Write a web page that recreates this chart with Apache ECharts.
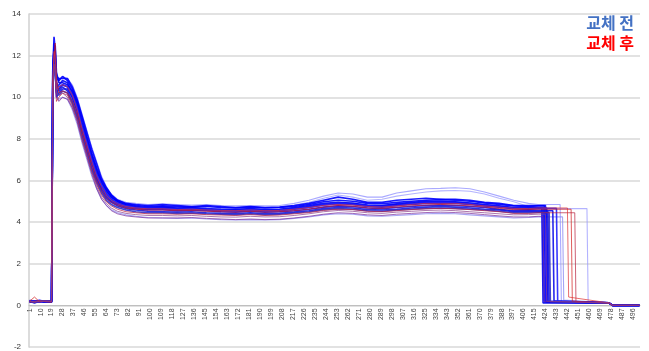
<!DOCTYPE html>
<html>
<head>
<meta charset="utf-8">
<script src="https://cdn.jsdelivr.net/npm/echarts@6/dist/echarts.min.js"></script>
<style>
  html, body { margin: 0; padding: 0; background: #fff; }
  #chart { width: 649px; height: 351px; }
</style>
</head>
<body>
<div id="chart"></div>
<script>
// 샘플 위치 (x축 카테고리 번호)
const sampleX = [1, 5, 9, 13, 19, 20, 21, 22, 23, 25, 28, 32, 36, 40, 44, 48, 52, 56, 60, 64,
    68, 73, 80, 88, 98, 110, 122, 134, 146, 158, 170, 182, 194, 206, 218, 230, 242, 254, 266, 278,
    290, 302, 314, 326, 338, 350, 362, 374, 386, 398, 410, 418]
const tailX = [476, 479, 501]
const tailY = [0.12, 0, 0]
const yTicks = [-2, 0, 2, 4, 6, 8, 10, 12, 14]

// 교체 전
const b1 = [0.22,0.18,0.25,0.2,0.22, 11.2,12.9,12.3,10.9,10.8, 11.0,10.8,10.4,9.8,9.0, 8.1,7.3,6.6,6.0,5.6,
    5.3,5.05,4.9,4.85,4.8, 4.85,4.8,4.75,4.8,4.75, 4.7,4.75,4.7,4.72,4.8, 4.9,5.05,5.2,5.1,4.95,
    4.95,5.05,5.1,5.15,5.1, 5.1,5.05,4.95,4.9,4.8, 4.8,4.8]
const b2 = [0.15,0.2,0.18,0.22,0.15, 10.8,12.4,11.9,10.5,10.6, 10.8,10.7,10.2,9.6,8.7, 7.9,7.1,6.4,5.9,5.5,
    5.2,5.0,4.85,4.75,4.7, 4.72,4.68,4.7,4.65,4.62, 4.6,4.65,4.6,4.62,4.7, 4.8,4.9,4.95,4.9,4.82,
    4.8,4.88,4.95,5.0,5.0, 4.98,4.92,4.85,4.78,4.7, 4.72,4.7]
const b3 = [0.2,0.12,0.2,0.15,0.2, 11.5,12.0,11.4,10.2,10.4, 10.6,10.5,10.0,9.4,8.5, 7.7,6.9,6.2,5.7,5.35,
    5.1,4.9,4.78,4.7,4.62, 4.65,4.6,4.62,4.58,4.55, 4.55,4.6,4.55,4.55,4.62, 4.7,4.82,4.88,4.85,4.75,
    4.72,4.8,4.85,4.9,4.92, 4.9,4.85,4.78,4.72,4.65, 4.62,4.65]
const b4 = [0.18,0.2,0.15,0.2,0.18, 10.2,11.6,11.8,10.6,10.3, 10.5,10.3,9.8,9.1,8.2, 7.4,6.6,6.0,5.5,5.15,
    4.95,4.78,4.65,4.58,4.52, 4.5,4.48,4.5,4.45,4.42, 4.4,4.45,4.4,4.42,4.48, 4.55,4.65,4.7,4.68,4.6,
    4.58,4.62,4.68,4.72,4.75, 4.72,4.68,4.62,4.58,4.5, 4.52,4.5]
const b5 = [0.25,0.15,0.22,0.18,0.2, 11.0,12.6,12.0,11.0,10.9, 10.9,10.9,10.5,9.9,9.1, 8.3,7.5,6.8,6.1,5.65,
    5.3,5.05,4.88,4.8,4.75, 4.78,4.75,4.72,4.75,4.7, 4.68,4.72,4.68,4.7,4.75, 4.85,4.98,5.05,5.0,4.9,
    4.88,4.95,5.0,5.05,5.08, 5.05,5.0,4.92,4.85,4.78, 4.75,4.78]
const b6 = [0.2,0.2,0.18,0.2,0.22, 10.6,12.1,11.6,10.0,10.2, 10.4,10.4,10.0,9.3,8.4, 7.6,6.8,6.1,5.6,5.25,
    5.0,4.85,4.72,4.65,4.6, 4.6,4.55,4.58,4.55,4.5, 4.48,4.52,4.48,4.5,4.55, 4.62,4.72,4.78,4.75,4.68,
    4.65,4.7,4.75,4.8,4.82, 4.8,4.75,4.7,4.62,4.55, 4.55,4.55]
const b7 = [0.15,0.22,0.2,0.18,0.15, 11.4,12.3,12.5,11.2,10.7, 10.7,10.6,10.3,9.7,8.8, 8.0,7.2,6.5,5.9,5.5,
    5.2,4.98,4.82,4.72,4.68, 4.7,4.66,4.66,4.62,4.6, 4.6,4.62,4.58,4.6,4.66, 4.75,4.86,4.92,4.9,4.8,
    4.78,4.84,4.9,4.95,4.95, 4.95,4.9,4.82,4.75,4.68, 4.66,4.68]
const b8 = [0.2,0.18,0.22,0.2,0.2, 10.9,11.9,12.1,10.7,10.5, 10.6,10.5,10.1,9.5,8.6, 7.8,7.0,6.3,5.8,5.4,
    5.1,4.92,4.78,4.7,4.66, 4.66,4.62,4.64,4.6,4.58, 4.56,4.6,4.56,4.58,4.64, 4.72,4.84,4.9,4.86,4.78,
    4.75,4.8,4.88,4.92,4.94, 4.92,4.88,4.8,4.74,4.66, 4.64,4.66]
const b9 = [0.18,0.15,0.2,0.22,0.18, 10.4,11.4,11.6,10.3,10.1, 10.3,10.2,9.7,9.0,8.1, 7.3,6.5,5.9,5.4,5.05,
    4.85,4.7,4.58,4.5,4.45, 4.45,4.42,4.44,4.4,4.38, 4.36,4.4,4.36,4.38,4.44, 4.5,4.6,4.65,4.62,4.55,
    4.52,4.58,4.62,4.66,4.68, 4.66,4.62,4.58,4.52,4.45, 4.45,4.46]
const l1 = [0.2,0.2,0.2,0.2,0.2, 10.8,12.0,11.5,10.6,10.8, 11.0,10.9,10.6,10.0,9.2, 8.4,7.6,6.9,6.2,5.7,
    5.35,5.1,4.95,4.9,4.85, 4.88,4.85,4.82,4.85,4.8, 4.78,4.8,4.78,4.8,4.9, 5.05,5.25,5.4,5.35,5.2,
    5.2,5.4,5.5,5.6,5.62, 5.65,5.6,5.45,5.25,5.05, 4.9,4.85]
const l2 = [0.22,0.15,0.2,0.18,0.2, 11.0,11.8,11.2,10.3,10.5, 10.8,10.7,10.4,9.8,9.0, 8.2,7.4,6.7,6.0,5.55,
    5.25,5.0,4.85,4.8,4.75, 4.78,4.76,4.74,4.76,4.72, 4.7,4.72,4.7,4.72,4.82, 4.95,5.15,5.3,5.2,5.05,
    5.1,5.25,5.35,5.45,5.5, 5.52,5.48,5.35,5.15,4.98, 4.75,4.65]
const l3 = [0.2,0.18,0.2,0.15,0.2, 10.0,11.2,11.0,10.0,9.9, 10.0,9.9,9.4,8.7,7.8, 7.0,6.2,5.6,5.1,4.8,
    4.6,4.45,4.35,4.28,4.22, 4.2,4.18,4.2,4.15,4.12, 4.1,4.12,4.1,4.12,4.18, 4.25,4.35,4.4,4.38,4.3,
    4.28,4.32,4.36,4.4,4.42, 4.4,4.35,4.3,4.25,4.2, 4.22,4.25]

// 교체 후
const r1 = [0.2,0.4,0.18,0.2,0.2, 10.6,11.9,12.6,10.9,10.2, 10.3,10.2,9.8,9.2,8.3, 7.5,6.7,6.0,5.5,5.15,
    4.95,4.8,4.68,4.62,4.58, 4.58,4.55,4.56,4.52,4.5, 4.48,4.52,4.48,4.5,4.55, 4.62,4.72,4.8,4.76,4.68,
    4.66,4.72,4.78,4.82,4.85, 4.82,4.78,4.72,4.66,4.6, 4.6,4.62]
const r2 = [0.15,0.2,0.22,0.18,0.15, 10.3,11.5,11.3,9.8,10.0, 10.2,10.1,9.6,8.9,8.0, 7.2,6.4,5.8,5.3,4.98,
    4.78,4.62,4.5,4.45,4.4, 4.4,4.38,4.4,4.36,4.34, 4.32,4.36,4.32,4.34,4.4, 4.46,4.56,4.62,4.6,4.52,
    4.5,4.55,4.6,4.64,4.66, 4.64,4.6,4.55,4.5,4.42, 4.42,4.45]
const r3 = [0.2,0.15,0.2,0.2,0.18, 10.7,12.2,11.8,10.4,10.5, 10.6,10.5,10.1,9.4,8.5, 7.7,6.9,6.2,5.7,5.3,
    5.05,4.88,4.75,4.68,4.64, 4.64,4.6,4.62,4.58,4.56, 4.55,4.58,4.55,4.56,4.62, 4.7,4.8,4.85,4.82,4.75,
    4.72,4.78,4.85,4.9,4.9, 4.9,4.85,4.78,4.72,4.66, 4.65,4.68]
const p1 = [0.18,0.2,0.15,0.2,0.2, 10.1,11.3,11.5,10.1,9.8, 10.0,9.9,9.5,8.8,7.9, 7.1,6.3,5.6,5.1,4.8,
    4.55,4.4,4.3,4.25,4.2, 4.2,4.2,4.22,4.18,4.15, 4.12,4.15,4.12,4.14,4.2, 4.28,4.38,4.45,4.42,4.35,
    4.32,4.38,4.42,4.46,4.48, 4.46,4.42,4.36,4.3,4.25, 4.25,4.28]
const p2 = [0.2,0.18,0.2,0.18,0.2, 10.4,11.6,11.2,10.2,10.1, 10.2,10.0,9.5,8.9,8.0, 7.2,6.4,5.7,5.2,4.9,
    4.68,4.52,4.42,4.36,4.32, 4.32,4.3,4.32,4.28,4.25, 4.24,4.28,4.25,4.26,4.32, 4.4,4.5,4.56,4.52,4.45,
    4.42,4.48,4.52,4.56,4.58, 4.55,4.5,4.45,4.4,4.35, 4.36,4.38]

const beforeRuns = [l1, l2, l3, b1, b2, b3, b4, b5, b6, b7, b8, b9]
const beforeDrop = [436, 458, 438, 424, 422, 421, 426, 423, 430, 425, 433, 427]
const beforeLow = [0.2, 0.15, 0.25, 0.15, 0.2, 0.12, 0.2, 0.18, 0.22, 0.15, 0.2, 0.18]
const afterRuns = [r1, r2, r3, p1, p2]
const afterDrop = [445, 448, 442, 422, 424]
const afterLow = [0.2, 0.15, 0.4, 0.18, 0.2]

const categories = Array.from({ length: 501 }, (_, i) => String(i + 1))

function buildRun(vals, drop, low) {
    const pts = sampleX.map((x, i) => [String(x), vals[i]])
    pts.push([String(drop), vals[vals.length - 1]])
    pts.push([String(drop + 1), low])
    tailX.forEach((x, i) => pts.push([String(x), tailY[i]]))
    return pts
}

const beforeStyle = ['#8c8cff', '#9a9aff', '#8a86f0', '#0000ff', '#0a0af5', '#0000ee', '#1a1ae0', '#0000ff',
    '#1010e8', '#0000f0', '#2020ff', '#3030c8']
const afterStyle = ['#d01818', '#b8203c', '#e03030', '#7a2c98', '#8a3c8a']

const series = []
beforeRuns.forEach((vals, i) => {
    series.push({
        name: '교체 전', type: 'line', symbol: 'none', z: 2,
        data: buildRun(vals, beforeDrop[i], beforeLow[i]),
        lineStyle: { color: beforeStyle[i], width: i < 3 ? 1.1 : 1.6, opacity: i < 3 ? 0.75 : 0.9 },
        itemStyle: { color: '#4472c4' },
    })
})
afterRuns.forEach((vals, i) => {
    series.push({
        name: '교체 후', type: 'line', symbol: 'none', z: 3,
        data: buildRun(vals, afterDrop[i], afterLow[i]),
        lineStyle: { color: afterStyle[i], width: 1, opacity: 0.7 },
        itemStyle: { color: '#ff0000' },
    })
})

// 그리드 높이 333px / 16 단위 -> 0 위치까지 2 단위
const plotTop = 14, plotBottom = 4
const zeroOffset = -(351 - plotTop - plotBottom) / (yTicks[yTicks.length - 1] - yTicks[0]) * (0 - yTicks[0])

const chart = echarts.init(document.getElementById('chart'))
chart.setOption({
    animation: false,
    backgroundColor: '#fff',
    grid: { left: 29, right: 9, top: plotTop, bottom: plotBottom, outerBoundsMode: 'none', containLabel: false },
    legend: {
        orient: 'vertical', right: 10, top: 10, icon: 'none', itemWidth: 0, itemGap: 4,
        selectedMode: false,
        data: [
            { name: '교체 전', textStyle: { color: '#4472c4' } },
            { name: '교체 후', textStyle: { color: '#ff0000' } },
        ],
        textStyle: { fontSize: 16, fontWeight: 'bold', fontFamily: 'Noto Sans CJK KR' },
    },
    xAxis: {
        type: 'category', data: categories, boundaryGap: true, position: 'bottom', offset: zeroOffset,
        axisLine: { onZero: false, lineStyle: { color: '#bfbfbf', width: 1 } },
        axisTick: { interval: 0, length: 3, lineStyle: { color: '#c8c8c8', width: 0.6 } },
        axisLabel: { interval: 8, rotate: 90, fontSize: 7, color: '#444', margin: 3, fontFamily: 'Liberation Sans' },
        splitLine: { show: false },
    },
    yAxis: {
        type: 'value', min: yTicks[0], max: yTicks[yTicks.length - 1], interval: 2,
        axisLine: { show: true, lineStyle: { color: '#d0d0d0', width: 1.5 } },
        axisTick: { show: false },
        axisLabel: { fontSize: 8, color: '#333', margin: 8, fontFamily: 'Liberation Sans' },
        splitLine: { lineStyle: { color: '#d9d9d9', width: 1.5 } },
    },
    series: series,
})
</script>
</body>
</html>
